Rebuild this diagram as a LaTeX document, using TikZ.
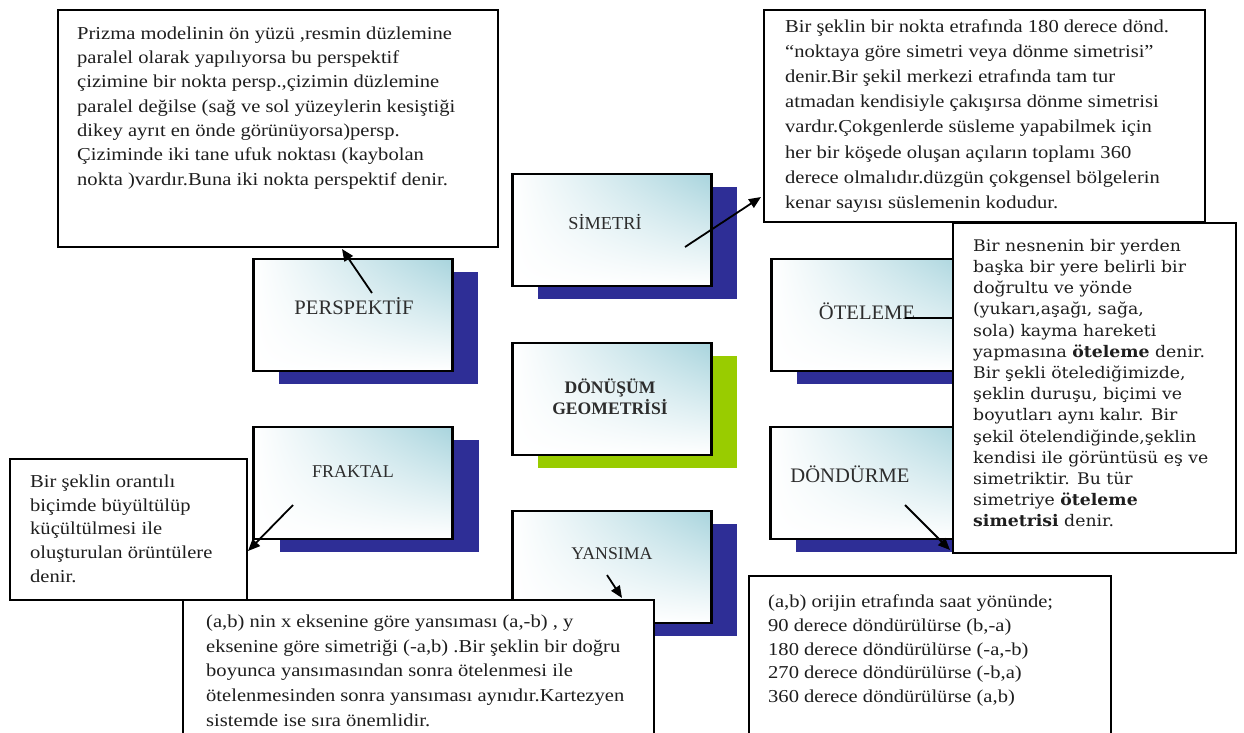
\documentclass[tikz,border=0pt]{standalone}
\usepackage{fontspec}
\setmainfont{Liberation Serif}
\newfontfamily\bodyf[FakeStretch=1.13]{Liberation Serif}
\newfontfamily\slabf[FakeStretch=1.08]{DejaVu Serif}
\usetikzlibrary{backgrounds,arrows.meta,shadings}
\definecolor{tealc}{RGB}{168,212,221}
\definecolor{shblue}{RGB}{46,46,150}
\definecolor{shgreen}{RGB}{153,204,0}
\definecolor{conngray}{RGB}{128,128,128}
\definecolor{bodyc}{RGB}{30,30,30}
\definecolor{labc}{RGB}{45,45,45}
\begin{document}
\begin{tikzpicture}[x=1pt,y=-1pt,
  cbox/.style={draw=black,line width=2.4pt,minimum width=199pt,minimum height=112pt,inner sep=0pt,upper left=white,upper right=tealc,lower left=white,lower right=white},
  shbox/.style={fill=shblue,draw=none,minimum width=199pt,minimum height=112pt,inner sep=0pt},
  tbox/.style={draw=black,line width=2pt,fill=white,inner sep=0pt,anchor=north west},
  lab/.style={text=labc,anchor=base,inner sep=0pt},
  body/.style={text=bodyc,anchor=north west,inner sep=0pt,align=left},
  conn/.style={draw=conngray,line width=6pt},
  arr/.style={draw=black,line width=1.8pt,-{Triangle[length=12pt,width=10pt]}},
  plain/.style={draw=black,line width=1.8pt}
]
\fill[white] (0,0) rectangle (1244,733);
\useasboundingbox (0,0) rectangle (1244,733);
\clip (0,0) rectangle (1244,733);

% shadows
\node[shbox] (simetri-sh) at (637,243) {};
\node[shbox] (persp-sh) at (378,328) {};
\node[shbox] (otel-sh) at (896,328) {};
\node[shbox,fill=shgreen] (center-sh) at (637,412) {};
\node[shbox] (frak-sh) at (379,496) {};
\node[shbox] (dond-sh) at (895,496) {};
\node[shbox] (yans-sh) at (637,580) {};

% concept boxes
\node[cbox] (simetri) at (612,230) {};
\node[cbox] (persp) at (353,315) {};
\node[cbox] (otel) at (871,315) {};
\node[cbox] (center) at (612,399) {};
\node[cbox] (frak) at (353,483) {};
\node[cbox] (dond) at (870,483) {};
\node[cbox] (yans) at (612,567) {};

% connectors behind
\begin{scope}[on background layer]
\draw[conn] (center.center) -- (simetri.center);
\draw[conn] (center.center) -- (persp.center);
\draw[conn] (center.center) -- (otel.center);
\draw[conn] (center.center) -- (frak.center);
\draw[conn] (center.center) -- (dond.center);
\draw[conn] (center.center) -- (yans.center);
\end{scope}

% labels
\node[lab,font=\fontsize{18.3}{21}\selectfont] (l-sim) at (605,229) {SİMETRİ};
\node[lab,font=\fontsize{20.6}{24}\selectfont] (l-per) at (354,314) {PERSPEKTİF};
\node[lab,font=\fontsize{20.6}{24}\selectfont] (l-ote) at (867,319) {ÖTELEME};
\node[lab,font=\fontsize{20.6}{24}\selectfont] (l-don) at (850,482) {DÖNDÜRME};
\node[lab,font=\fontsize{17.8}{21}\selectfont] (l-yan) at (612,559) {YANSIMA};
\node[lab,font=\fontsize{18}{21}\selectfont] (l-fra) at (353,477) {FRAKTAL};
\node[text=labc,inner sep=0pt,align=center,font=\bfseries\fontsize{17.6}{21}\selectfont] (l-cen) at (610,397) {DÖNÜŞÜM\\GEOMETRİSİ};

% text boxes
\node[tbox,minimum width=440pt,minimum height=237pt] (tl) at (57,9) {};
\node[body,font=\bodyf\fontsize{18.2}{24.3}\selectfont] (tl-t) at (77,26.5) {Prizma modelinin ön yüzü ,resmin düzlemine\\paralel olarak yapılıyorsa bu perspektif\\çizimine bir nokta persp.,çizimin düzlemine\\paralel değilse (sağ ve sol yüzeylerin kesiştiği\\dikey ayrıt en önde görünüyorsa)persp.\\Çiziminde iki tane ufuk noktası (kaybolan\\nokta )vardır.Buna iki nokta perspektif denir.};

\node[tbox,minimum width=441pt,minimum height=212pt] (tr) at (763,9) {};
\node[body,font=\bodyf\fontsize{18.2}{25.1}\selectfont] (tr-t) at (785,19.5) {Bir şeklin bir nokta etrafında 180 derece dönd.\\“noktaya göre simetri veya dönme simetrisi”\\denir.Bir şekil merkezi etrafında tam tur\\atmadan kendisiyle çakışırsa dönme simetrisi\\vardır.Çokgenlerde süsleme yapabilmek için\\her bir köşede oluşan açıların toplamı 360\\derece olmalıdır.düzgün çokgensel bölgelerin\\kenar sayısı süslemenin kodudur.};

\node[tbox,minimum width=283pt,minimum height=330pt] (rt) at (952,222) {};
\node[body,font=\slabf\fontsize{16}{21.2}\selectfont] (rt-t) at (973,239) {Bir nesnenin bir yerden\\başka bir yere belirli bir\\doğrultu ve yönde\\(yukarı,aşağı, sağa,\\sola) kayma hareketi\\yapmasına \textbf{öteleme} denir.\\Bir şekli ötelediğimizde,\\şeklin duruşu, biçimi ve\\boyutları aynı kalır. Bir\\şekil ötelendiğinde,şeklin\\kendisi ile görüntüsü eş ve\\simetriktir. Bu tür\\simetriye \textbf{öteleme}\\\textbf{simetrisi} denir.};

\node[tbox,minimum width=237pt,minimum height=141pt] (lf) at (9,458) {};
\node[body,font=\bodyf\fontsize{18.2}{23.7}\selectfont] (lf-t) at (30,474.5) {Bir şeklin orantılı\\biçimde büyültülüp\\küçültülmesi ile\\oluşturulan örüntülere\\denir.};

\node[tbox,minimum width=471pt,minimum height=150pt] (bl) at (182,599) {};
\node[body,font=\bodyf\fontsize{18.2}{24.8}\selectfont] (bl-t) at (206,614.4) {(a,b) nin x eksenine göre yansıması (a,-b) , y\\eksenine göre simetriği (-a,b) .Bir şeklin bir doğru\\boyunca yansımasından sonra ötelenmesi ile\\ötelenmesinden sonra yansıması aynıdır.Kartezyen\\sistemde ise sıra önemlidir.};

\node[tbox,minimum width=362pt,minimum height=175pt] (br) at (748,575) {};
\node[body,font=\bodyf\fontsize{18.2}{23.8}\selectfont] (br-t) at (768,594.4) {(a,b) orijin etrafında saat yönünde;\\90 derece döndürülürse (b,-a)\\180 derece döndürülürse (-a,-b)\\270 derece döndürülürse (-b,a)\\360 derece döndürülürse (a,b)};

% arrows
\coordinate (a1s) at (372,293); \coordinate (a1e) at (342,249);
\coordinate (a2s) at (685,247); \coordinate (a2e) at (761,197);
\coordinate (a3s) at (293,505); \coordinate (a3e) at (248,551);
\coordinate (a4s) at (607,575); \coordinate (a4e) at (622,598);
\coordinate (a5s) at (905,505); \coordinate (a5e) at (950,550);
\coordinate (a6s) at (905,318);
\draw[arr] (a1s) -- (a1e);
\draw[arr] (a2s) -- (a2e);
\draw[arr] (a3s) -- (a3e);
\draw[arr] (a4s) -- (a4e);
\draw[arr] (a5s) -- (a5e);
\draw[plain] (a6s) -- (a6s -| rt.west);
\end{tikzpicture}
\end{document}
